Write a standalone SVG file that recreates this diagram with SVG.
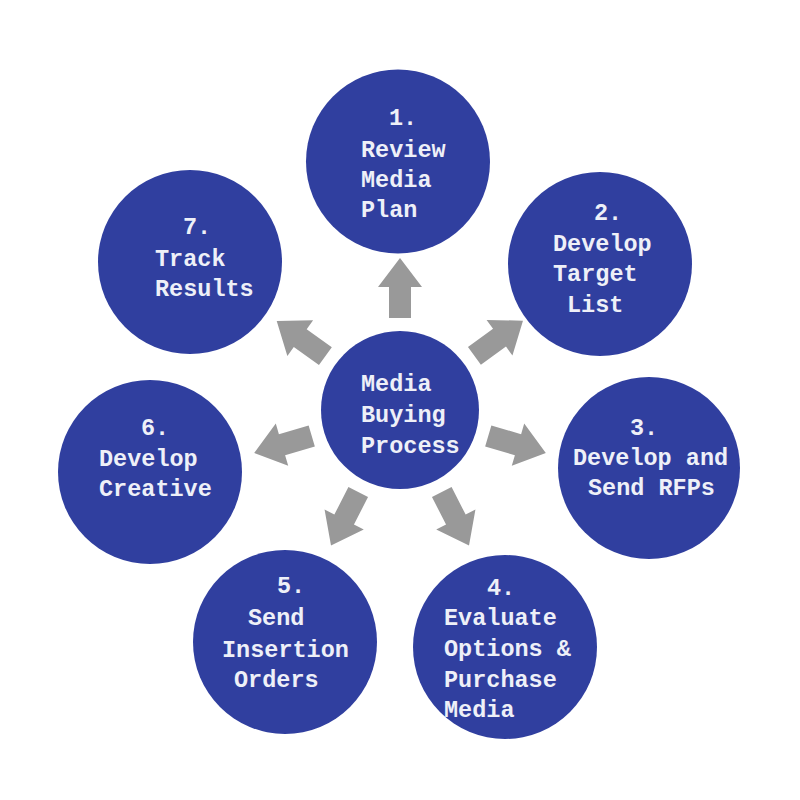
<svg xmlns="http://www.w3.org/2000/svg" width="800" height="800" viewBox="0 0 800 800">
<style>
.node circle{fill:#303f9f}
.node text{font-family:"Liberation Mono","DejaVu Sans Mono",monospace;font-weight:bold;font-size:23.5px;fill:#eef0f8}
.arrow{fill:#999999}
</style>
<defs>
<polygon id="arr" class="arrow" points="92,-11 123,-11 123,-22 152,0 123,22 123,11 92,11"/>
</defs>
<rect width="800" height="800" fill="#ffffff"/>
<g id="connectors" transform="translate(400,410)">
<use href="#arr" transform="rotate(-90)"/>
<use href="#arr" transform="rotate(-36)"/>
<use href="#arr" transform="rotate(16.4)"/>
<use href="#arr" transform="rotate(63)"/>
<use href="#arr" transform="rotate(117)"/>
<use href="#arr" transform="rotate(163.6)"/>
<use href="#arr" transform="rotate(-144.2)"/>
</g>
<g id="center" class="node">
<circle cx="400" cy="410" r="79"/>
<text x="361" y="391">Media</text>
<text x="361" y="422">Buying</text>
<text x="361" y="453">Process</text>
</g>
<g id="step1" class="node">
<circle cx="398" cy="161.5" r="92"/>
<text x="389" y="125">1.</text>
<text x="361" y="157">Review</text>
<text x="361" y="187">Media</text>
<text x="361" y="217">Plan</text>
</g>
<g id="step2" class="node">
<circle cx="600" cy="264" r="92"/>
<text x="594" y="220">2.</text>
<text x="553" y="251">Develop</text>
<text x="553" y="281">Target</text>
<text x="567" y="312">List</text>
</g>
<g id="step3" class="node">
<circle cx="649" cy="468" r="91"/>
<text x="630" y="435">3.</text>
<text x="573" y="465">Develop and</text>
<text x="588" y="495">Send RFPs</text>
</g>
<g id="step4" class="node">
<circle cx="505" cy="647" r="92"/>
<text x="487" y="595">4.</text>
<text x="444" y="625">Evaluate</text>
<text x="444" y="656">Options &amp;</text>
<text x="444" y="687">Purchase</text>
<text x="444" y="717">Media</text>
</g>
<g id="step5" class="node">
<circle cx="285" cy="642" r="92"/>
<text x="277" y="593">5.</text>
<text x="248" y="625">Send</text>
<text x="222" y="657">Insertion</text>
<text x="234" y="687">Orders</text>
</g>
<g id="step6" class="node">
<circle cx="150" cy="472" r="92"/>
<text x="141" y="435">6.</text>
<text x="99" y="466">Develop</text>
<text x="99" y="496">Creative</text>
</g>
<g id="step7" class="node">
<circle cx="190" cy="262" r="92"/>
<text x="183" y="234">7.</text>
<text x="155" y="266">Track</text>
<text x="155" y="296">Results</text>
</g>
</svg>
